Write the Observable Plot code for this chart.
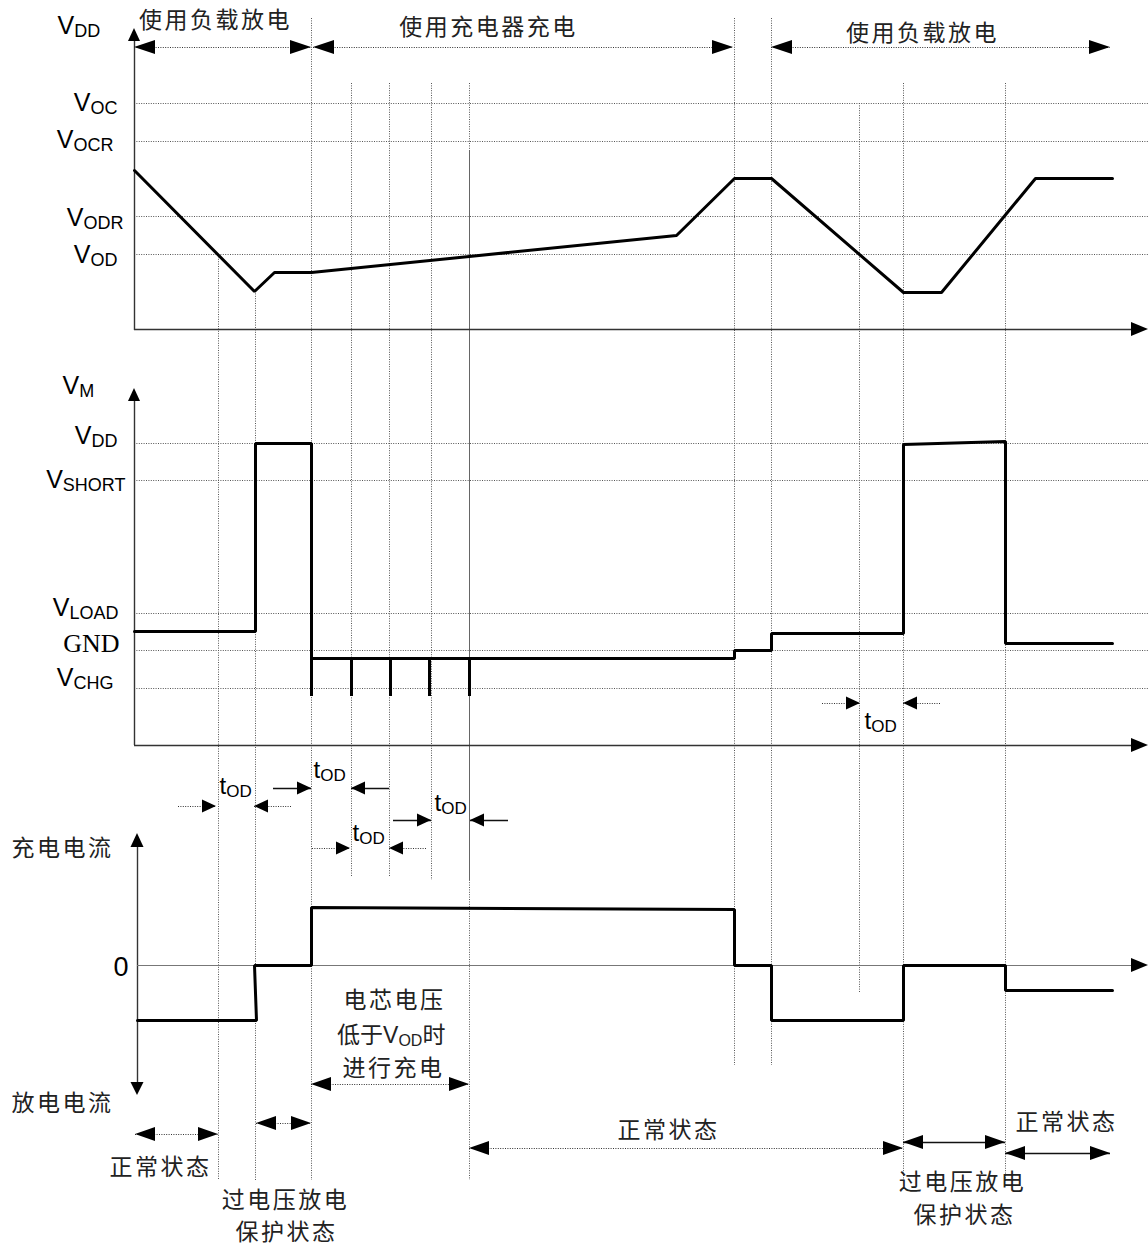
<!DOCTYPE html>
<html><head><meta charset="utf-8">
<script src="https://cdn.jsdelivr.net/npm/d3@7"></script>
<script src="https://cdn.jsdelivr.net/npm/@observablehq/plot@0.6"></script>
<style>body{margin:0;background:#fff} #chart svg{display:block}</style>
</head><body><div id="chart"></div>
<script>
// ================= DATA =================
// reference levels, top panel (cell voltage)
const cellLevelNames = ["V_{OC}", "V_{OCR}", "V_{ODR}", "V_{OD}"];
const cellLevels = [103, 141, 216, 254];
// reference levels, middle panel (VM pin)
const vmLevelNames = ["V_{DD}", "V_{SHORT}", "V_{LOAD}", "GND", "V_{CHG}"];
const vmLevels = [443, 480, 613, 650, 688];

// cell voltage waveform (time, level)
const cellT = [134, 254, 274, 311, 676, 734, 771, 903, 941, 1035, 1112];
const cellV = [170, 291, 272, 272, 235, 178, 178, 292, 292, 178, 178];
// VM voltage waveform
const vmT = [134, 255, 255, 311, 311, 734, 734, 771, 771, 903, 903, 1005, 1005, 1112];
const vmV = [631, 631, 443, 443, 658, 658, 650, 650, 633, 633, 444, 441, 643, 643];
// charger detection spikes on VM
const spikeT = [311, 351, 390, 429, 469];
const spikeFrom = [658, 658, 658, 658, 658];
const spikeTo = [696, 696, 696, 696, 696];
// current waveform
const curT = [137, 256, 254, 311, 311, 734, 734, 771, 771, 903, 903, 1005, 1005, 1112];
const curI = [1020, 1020, 965, 965, 907, 909, 965, 965, 1020, 1020, 965, 965, 990, 990];

// vertical event guides
const guideT = [218, 255, 311, 351, 389, 431, 469, 734, 771, 859, 903, 1005];
const guideFrom = [254, 291, 18, 83, 83, 83, 83, 18, 18, 103, 83, 83];
const guideTo = [1180, 1180, 1180, 877, 877, 880, 1180, 1065, 1065, 993, 1182, 1182];

// phases (top)
const phaseLabels = ["使用负载放电", "使用充电器充电", "使用负载放电"];
const phaseStart = [134, 313, 771];
const phaseEnd = [311, 733, 1110];
const phaseY = [47, 47, 47];
const phaseLabelX = [215, 488, 922];
const phaseLabelY = [20, 27, 33];

// states (bottom)
const stateStart = [135, 256, 311, 469, 903, 1005];
const stateEnd = [218, 311, 469, 903, 1005, 1110];
const stateY = [1134, 1123, 1084, 1148, 1142, 1153];
const stateDotted = [true, true, true, true, false, false];
const stateLabels = ["正常状态", "过电压放电", "保护状态", "电芯电压", "低于V_{OD}时", "进行充电", "正常状态", "过电压放电", "保护状态", "正常状态"];
const stateLabelX = [160, 285, 286, 394, 392, 393, 668, 962, 964, 1066];
const stateLabelY = [1167, 1200, 1232, 1000, 1035, 1068, 1130, 1182, 1215, 1122];

// delay times tOD
const todStart = [216, 311, 350, 431, 860];
const todEnd = [254, 351, 389, 470, 903];
const todY = [806, 788, 848, 820, 703];
const todDotted = [true, false, true, false, true];
const todLabelX = [219, 313, 352, 434, 864];
const todLabelY = [793, 777, 840, 810, 728];

// axis labels
const axisLabels = ["V_{DD}", "V_{M}", "充电电流", "放电电流"];
const axisLabelX = [57, 62, 113, 113];
const axisLabelY = [33, 393, 848, 1103];

// ================= BUILD =================
const zip = (...cols) => cols[0].map((_, i) => cols.map(c => c[i]));
const cellRows = cellT.map((t, i) => ({t, v: cellV[i]}));
const vmRows = vmT.map((t, i) => ({t, v: vmV[i]}));
const curRows = curT.map((t, i) => ({t, v: curI[i]}));
const spikeRows = spikeT.map((t, i) => ({t, y1: spikeFrom[i], y2: spikeTo[i]}));
const guideRows = guideT.map((t, i) => ({t, y1: guideFrom[i], y2: guideTo[i]}));
const cellLevelRows = cellLevels.map((y, i) => ({y, name: cellLevelNames[i]}));
const vmLevelRows = vmLevels.map((y, i) => ({y, name: vmLevelNames[i]}));

function hHead(id, tip, y, dir, L, w) {
  return [{id, x: tip - dir * L, y1: y - w, y2: y + w}, {id, x: tip, y1: y, y2: y}];
}
function vHead(id, x, tip, dir, L, w) {
  return [{id, y: tip - dir * L, x1: x - w, x2: x + w}, {id, y: tip, x1: x, x2: x}];
}

let hid = 0;
const hHeads = [];
const shafts = [];
phaseStart.forEach((s, i) => {
  hHeads.push(...hHead(hid++, s, phaseY[i], -1, 21, 7));
  hHeads.push(...hHead(hid++, phaseEnd[i], phaseY[i], 1, 21, 7));
  shafts.push({x1: s, x2: phaseEnd[i], y: phaseY[i], dotted: true});
});
stateStart.forEach((s, i) => {
  hHeads.push(...hHead(hid++, s, stateY[i], -1, 20, 7));
  hHeads.push(...hHead(hid++, stateEnd[i], stateY[i], 1, 20, 7));
  shafts.push({x1: s, x2: stateEnd[i], y: stateY[i], dotted: stateDotted[i]});
});
todStart.forEach((s, i) => {
  hHeads.push(...hHead(hid++, s, todY[i], 1, 14, 6.5));
  hHeads.push(...hHead(hid++, todEnd[i], todY[i], -1, 14, 6.5));
  shafts.push({x1: s - 38, x2: s, y: todY[i], dotted: todDotted[i]});
  shafts.push({x1: todEnd[i], x2: todEnd[i] + 38, y: todY[i], dotted: todDotted[i]});
});
// axes
const axesV = [{x: 134, y1: 330, y2: 36}, {x: 134, y1: 745, y2: 396}, {x: 137, y1: 1088, y2: 840}];
const axesH = [{y: 329, x1: 134, x2: 1140}, {y: 745, x1: 134, x2: 1140}, {y: 965, x1: 137, x2: 1140}];
hHeads.push(...hHead(hid++, 1148, 329, 1, 17, 7));
hHeads.push(...hHead(hid++, 1148, 745, 1, 17, 7));
hHeads.push(...hHead(hid++, 1148, 965, 1, 17, 7));
const vHeads = [];
vHeads.push(...vHead(hid++, 134, 28, -1, 13, 6));
vHeads.push(...vHead(hid++, 134, 388, -1, 13, 6));
vHeads.push(...vHead(hid++, 137, 833, -1, 14, 6.5));
vHeads.push(...vHead(hid++, 137, 1095, 1, 13, 6.5));

const FONT = "'Liberation Sans', 'Noto Sans CJK SC', sans-serif";
const dot = "1,1.4";

const chart = Plot.plot({
  width: 1148, height: 1250, margin: 0,
  style: {background: "white"},
  x: {domain: [0, 1148], range: [0, 1148], axis: null},
  y: {domain: [0, 1250], range: [0, 1250], axis: null},
  marks: [
    Plot.ruleY(cellLevelRows, {y: "y", x1: 134, x2: 1148, stroke: "#555", strokeWidth: 1, strokeDasharray: dot}),
    Plot.ruleY(vmLevelRows, {y: "y", x1: 134, x2: 1148, stroke: "#555", strokeWidth: 1, strokeDasharray: dot}),
    Plot.ruleX(guideRows, {x: "t", y1: "y1", y2: "y2", stroke: "#555", strokeWidth: 1, strokeDasharray: dot}),
    Plot.ruleX([469], {x: d => d, y1: 150, y2: 880, stroke: "#666", strokeWidth: 1}),
    Plot.ruleX(axesV, {x: "x", y1: "y1", y2: "y2", stroke: "#333", strokeWidth: 1.4}),
    Plot.ruleY(axesH.slice(0, 2), {y: "y", x1: "x1", x2: "x2", stroke: "#333", strokeWidth: 1.4}),
    Plot.ruleY(axesH.slice(2), {y: "y", x1: "x1", x2: "x2", stroke: "#777", strokeWidth: 1.2}),
    Plot.ruleY(shafts.filter(d => d.dotted), {y: "y", x1: "x1", x2: "x2", stroke: "#333", strokeWidth: 1, strokeDasharray: dot}),
    Plot.ruleY(shafts.filter(d => !d.dotted), {y: "y", x1: "x1", x2: "x2", stroke: "#111", strokeWidth: 1.3}),
    Plot.areaY(hHeads, {x: "x", y1: "y1", y2: "y2", z: "id", fill: "black"}),
    Plot.areaX(vHeads, {y: "y", x1: "x1", x2: "x2", z: "id", fill: "black"}),
    Plot.line(cellRows, {x: "t", y: "v", stroke: "black", strokeWidth: 3, strokeLinejoin: "miter"}),
    Plot.line(vmRows, {x: "t", y: "v", stroke: "black", strokeWidth: 3, strokeLinejoin: "miter"}),
    Plot.ruleX(spikeRows, {x: "t", y1: "y1", y2: "y2", stroke: "black", strokeWidth: 3}),
    Plot.line(curRows, {x: "t", y: "v", stroke: "black", strokeWidth: 3, strokeLinejoin: "miter"}),
    Plot.text(cellLevelRows, {x: [117, 113, 123, 117], y: [110, 147, 225, 262], text: "name", textAnchor: "end", lineAnchor: "bottom", fontSize: 25, fontFamily: FONT, fill: "black"}),
    Plot.text(vmLevelRows.filter(d => d.name !== "GND"), {x: [117, 125, 118, 113], y: [443, 487, 615, 685], text: "name", textAnchor: "end", lineAnchor: "bottom", fontSize: 25, fontFamily: FONT, fill: "black"}),
    Plot.text(vmLevelRows.filter(d => d.name === "GND"), {x: 119, y: 651, text: "name", textAnchor: "end", lineAnchor: "bottom", fontSize: 26, fontFamily: "'Liberation Serif', serif", fill: "black"}),
    Plot.text(zip(axisLabels, axisLabelX, axisLabelY).slice(0, 2), {x: d => d[1], y: d => d[2], text: d => d[0], textAnchor: "start", lineAnchor: "bottom", fontSize: 25, fontFamily: FONT, fill: "black"}),
    Plot.text(zip(axisLabels, axisLabelX, axisLabelY).slice(2), {x: d => d[1], y: d => d[2], text: d => d[0], textAnchor: "end", lineAnchor: "middle", fontSize: 23, fontFamily: FONT, fill: "#222"}),
    Plot.text(["0"], {x: 128, y: 967, text: d => d, textAnchor: "end", lineAnchor: "middle", fontSize: 27, fontFamily: FONT, fill: "black"}),
    Plot.text(phaseLabels, {x: phaseLabelX, y: phaseLabelY, text: d => d, textAnchor: "middle", lineAnchor: "middle", fontSize: 23, fontFamily: FONT, fill: "#222"}),
    Plot.text(stateLabels, {x: stateLabelX, y: stateLabelY, text: d => d, textAnchor: "middle", lineAnchor: "middle", fontSize: 23, fontFamily: FONT, fill: "#222"}),
    Plot.text(todLabelX, {x: d => d, y: todLabelY, text: () => "t_{OD}", textAnchor: "start", lineAnchor: "bottom", fontSize: 24, fontFamily: FONT, fill: "black"})
  ]
});

document.getElementById("chart").appendChild(chart);

// subscripts and CJK letter spacing
const CJK = /[\u4e00-\u9fff]/;
chart.querySelectorAll("text").forEach(t => {
  const s = t.textContent;
  if (CJK.test(s)) t.setAttribute("letter-spacing", "2.5");
  if (!s.includes("_{")) return;
  const fs = parseFloat(getComputedStyle(t).fontSize);
  const subFs = Math.round(fs * 0.7);
  const shift = Math.round(fs * 0.13);
  const parts = s.split(/(_\{[^}]*\})/).filter(p => p.length);
  while (t.firstChild) t.removeChild(t.firstChild);
  let prevSub = false;
  parts.forEach((p, k) => {
    const ts = document.createElementNS("http://www.w3.org/2000/svg", "tspan");
    if (p.startsWith("_{")) {
      ts.textContent = p.slice(2, -1);
      ts.setAttribute("font-size", subFs);
      ts.setAttribute("dy", shift);
      ts.setAttribute("letter-spacing", "0");
      prevSub = true;
    } else {
      ts.textContent = p;
      if (prevSub) ts.setAttribute("dy", -shift);
      if (!CJK.test(p.slice(-1))) ts.setAttribute("letter-spacing", "0");
      prevSub = false;
    }
    t.appendChild(ts);
  });
});
</script>
</body></html>
